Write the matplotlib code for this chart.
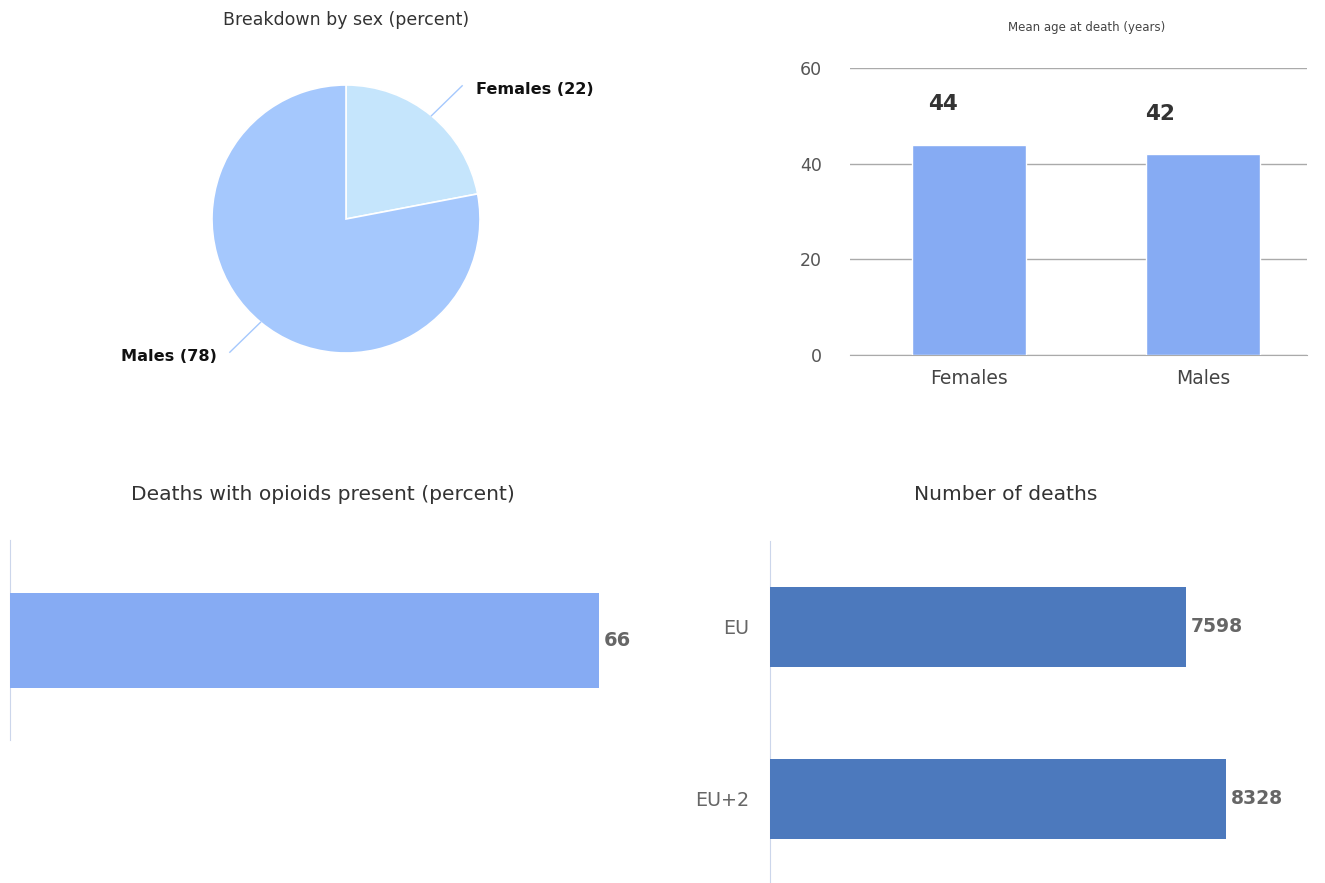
import matplotlib.pyplot as plt
import numpy as np

# データ
sex_labels = ["Females", "Males"]
sex_share = [22, 78]

age_labels = ["Females", "Males"]
mean_age = [44, 42]

opioid_share = [66]

region_labels = ["EU", "EU+2"]
region_deaths = [7598, 8328]

W, H = 1325, 883


def px_axes(fig, left, top, right, bottom):
    """ピクセル座標 (左上原点) で Axes を作る。"""
    return fig.add_axes([left / W, 1 - bottom / H, (right - left) / W, (bottom - top) / H])


plt.rcParams["font.family"] = ["DejaVu Sans"]
fig = plt.figure(figsize=(W / 100, H / 100), dpi=100)
fig.patch.set_facecolor("white")

###############################################################################
# 円グラフ: Breakdown by sex
###############################################################################
r = 134
ax1 = px_axes(fig, 346 - r, 219 - r, 346 + r, 219 + r)
ax1.pie(sex_share, colors=["#c5e5fc", "#a5c8fd"], startangle=90, counterclock=False,
        radius=1, wedgeprops=dict(edgecolor="white", linewidth=1.2))
ax1.set_xlim(-1, 1)
ax1.set_ylim(-1, 1)
ax1.set_aspect("equal")
ax1.axis("off")

start = 90
for lab, val in zip(sex_labels, sex_share):
    mid = np.deg2rad(start - val / 2 * 3.6)
    start -= val * 3.6
    cx, cy = np.cos(mid), np.sin(mid)
    ex, ey = cx * 1.36, cy * 1.29
    ax1.plot([cx, ex], [cy, ey], color="#a5c8fd", lw=1, clip_on=False)
    ha = "left" if cx > 0 else "right"
    tx = ex + (0.1 if cx > 0 else -0.1)
    ax1.text(tx, ey - 0.03, f"{lab} ({val})", ha=ha, va="center", fontsize=11.6,
             fontweight="bold", color="#111111", clip_on=False)

fig.text(346 / W, 1 - 20 / H, "Breakdown by sex (percent)", ha="center", va="center",
         fontsize=12.5, color="#333333")

###############################################################################
# 棒グラフ: Mean age at death
###############################################################################
ax2 = px_axes(fig, 850, 68, 1307, 355)
x = np.arange(len(age_labels))
ax2.bar(x, mean_age, width=0.487, color="#86abf3", edgecolor="white", linewidth=1, zorder=3)
ax2.set_xlim(-0.509, 1.444)
ax2.set_ylim(0, 60)
ax2.set_yticks([0, 20, 40, 60])
ax2.yaxis.grid(True, color="#aaaaaa", linewidth=1, zorder=0)
for s in ["top", "right", "left"]:
    ax2.spines[s].set_visible(False)
ax2.spines["bottom"].set_color("#aaaaaa")
ax2.tick_params(axis="y", length=0, pad=20, labelsize=12.5, labelcolor="#555555")
ax2.tick_params(axis="x", length=0, pad=10, labelsize=13.5, labelcolor="#444444")
ax2.set_xticks(x)
ax2.set_xticklabels(age_labels)
for xi, v, dx in zip(x, mean_age, [-26, -43]):
    ax2.annotate(str(v), (xi, v), xytext=(dx * 0.72, 29), textcoords="offset points",
                 ha="center", va="center", fontsize=15.5, fontweight="bold", color="#333333")
fig.text(1087 / W, 1 - 27 / H, "Mean age at death (years)", ha="center", va="center",
         fontsize=8.5, color="#444444")

###############################################################################
# 横棒: Deaths with opioids present
###############################################################################
ax3 = px_axes(fig, 10, 540, 635, 740)
ax3.barh([0], opioid_share, height=0.475, color="#86abf3", zorder=3)
ax3.set_xlim(0, 70)
ax3.set_ylim(-0.5, 0.5)
ax3.set_xticks([])
ax3.set_yticks([])
for s in ["top", "right", "bottom"]:
    ax3.spines[s].set_visible(False)
ax3.spines["left"].set_color("#ccd6eb")
for v in opioid_share:
    ax3.annotate(str(v), (v, 0), xytext=(3.5, 0), textcoords="offset points",
                 ha="left", va="center", fontsize=14, fontweight="bold", color="#666666")
fig.text(323 / W, 1 - 494 / H, "Deaths with opioids present (percent)", ha="center",
         va="center", fontsize=14.6, color="#333333")

###############################################################################
# 横棒: Number of deaths
###############################################################################
ax4 = px_axes(fig, 770, 541, 1318, 885)
y = np.arange(len(region_labels))
ax4.barh(y, region_deaths, height=0.47, color="#4c79bd", zorder=3)
ax4.set_xlim(0, 10000)
ax4.set_ylim(len(region_labels) - 0.5, -0.5)
ax4.set_xticks([])
ax4.set_yticks(y)
ax4.set_yticklabels(region_labels)
ax4.tick_params(axis="y", length=0, pad=15, labelsize=13.8, labelcolor="#666666")
for s in ["top", "right", "bottom"]:
    ax4.spines[s].set_visible(False)
ax4.spines["left"].set_color("#ccd6eb")
for yi, v in zip(y, region_deaths):
    ax4.annotate(str(v), (v, yi), xytext=(3.5, 0), textcoords="offset points",
                 ha="left", va="center", fontsize=13.5, fontweight="bold", color="#666666")
fig.text(1006 / W, 1 - 494 / H, "Number of deaths", ha="center", va="center",
         fontsize=14.6, color="#333333")

fig.savefig("out.png", dpi=100)
